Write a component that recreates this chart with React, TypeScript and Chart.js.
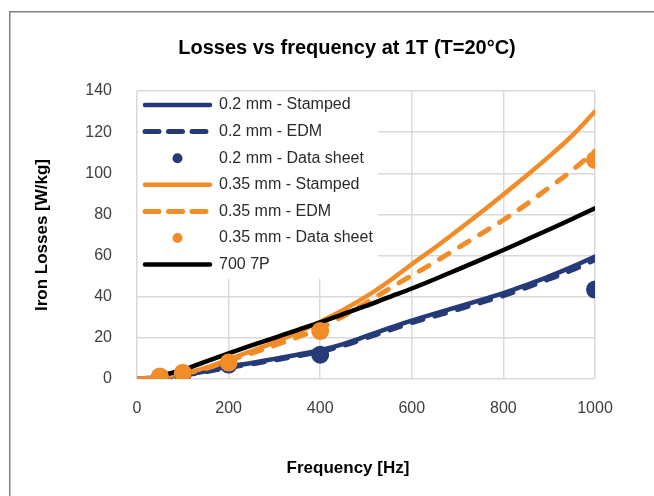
import React, { useEffect, useRef } from "react";
import { Chart, registerables } from "chart.js";

Chart.register(...registerables);

const FONT = "'Liberation Sans', Arial, Helvetica, sans-serif";

const title = "Losses vs frequency at 1T (T=20°C)";
const xTitle = "Frequency [Hz]";
const yTitle = "Iron Losses [W/kg]";

const freq = [0, 50, 100, 150, 200, 250, 300, 350, 400, 450, 500, 550, 600, 650, 700, 750, 800, 850, 900, 950, 1000];
const stamped02 = [0, 0.8, 2, 3.8, 6, 7.8, 9.8, 11.8, 14, 17, 20.8, 24.7, 28.4, 31.8, 35, 38.3, 41.7, 45.7, 49.9, 54.5, 59.5];
const edm02 = [0, 0.7, 1.8, 3.5, 5.6, 7.3, 9.2, 11.2, 13.3, 16.2, 19.9, 23.7, 27.4, 30.6, 33.8, 37.1, 40.5, 44.4, 48.6, 53, 58];
const stamped035 = [0, 0.8, 2.5, 5.5, 9.5, 13.5, 17.8, 22.5, 27.8, 33.5, 40, 47.5, 55.8, 63.8, 72.2, 80.8, 89.7, 98.8, 108.2, 118.3, 130];
const edm035 = [0, 0.8, 2.5, 5, 9, 12.5, 16.3, 20.3, 24.7, 30.5, 37, 43.8, 50.3, 56.8, 63.6, 70.4, 77.3, 84.9, 93.1, 101.4, 110.8];
const m7007p = [null, 1.5, 4.4, 8.5, 12.5, 16.3, 20, 23.8, 27.5, 31.5, 35.5, 39.8, 44, 48.5, 53.2, 57.9, 62.7, 67.7, 72.7, 77.8, 83];

const sheetFreq = [50, 100, 200, 400, 1000];
const sheet02 = [1, 2.5, 7, 11.8, 43.5];
const sheet035 = [1.2, 3, 8, 23.3, 106.5];

const NAVY = "#253a76";
const ORANGE = "#f28c28";
const BLACK = "#000000";

const xTicks = [0, 200, 400, 600, 800, 1000];
const yTicks = [0, 20, 40, 60, 80, 100, 120, 140];

const pts = (xs: number[], ys: (number | null)[]) => xs.map((x, i) => ({ x, y: ys[i] }));

const overlayPlugin = {
  id: "overlay",
  beforeDraw(chart: any) {
    const { ctx } = chart;
    ctx.save();
    ctx.strokeStyle = "#7f7f7f";
    ctx.lineWidth = 1.5;
    ctx.beginPath();
    ctx.moveTo(9.75, 496);
    ctx.lineTo(9.75, 11.75);
    ctx.lineTo(654, 11.75);
    ctx.stroke();
    ctx.restore();
  },
  beforeDatasetsDraw(chart: any) {
    const { ctx, chartArea } = chart;
    ctx.save();
    ctx.fillStyle = "#ffffff";
    ctx.fillRect(chartArea.left + 1, chartArea.top + 1, 240, 187);
    const sx0 = chartArea.left + 8;
    const sx1 = chartArea.left + 73;
    const tx = chartArea.left + 82;
    chart.data.datasets.forEach((ds: any, i: number) => {
      const y = chartArea.top + 14 + i * 26.6;
      if (ds.showLine === false) {
        ctx.beginPath();
        ctx.fillStyle = ds.backgroundColor;
        ctx.arc((sx0 + sx1) / 2, y, 5, 0, Math.PI * 2);
        ctx.fill();
      } else {
        ctx.beginPath();
        ctx.strokeStyle = ds.borderColor;
        ctx.lineWidth = ds.borderWidth;
        ctx.lineCap = "round";
        ctx.setLineDash(ds.borderDash && ds.borderDash.length ? [14, 9.5] : []);
        ctx.moveTo(sx0, y);
        ctx.lineTo(sx1, y);
        ctx.stroke();
        ctx.setLineDash([]);
      }
      ctx.fillStyle = "#2b2b2b";
      ctx.font = `16px ${FONT}`;
      ctx.textAlign = "left";
      ctx.textBaseline = "middle";
      ctx.fillText(ds.label, tx, y);
    });
    ctx.restore();
  },
  afterDraw(chart: any) {
    const { ctx } = chart;
    ctx.save();
    ctx.fillStyle = "#000000";
    ctx.textAlign = "center";
    ctx.textBaseline = "middle";
    ctx.font = `bold 20px ${FONT}`;
    ctx.fillText(title, 347, 48);
    ctx.font = `bold 17px ${FONT}`;
    ctx.fillText(xTitle, 348, 468);
    ctx.translate(42, 235);
    ctx.rotate(-Math.PI / 2);
    ctx.fillText(yTitle, 0, 0);
    ctx.restore();
  },
};

export default function App() {
  const ref = useRef<HTMLCanvasElement | null>(null);

  useEffect(() => {
    if (!ref.current) return;
    const lineCommon = {
      showLine: true,
      pointRadius: 0,
      pointHoverRadius: 0,
      cubicInterpolationMode: "monotone" as const,
      borderWidth: 4.5,
      borderCapStyle: "round" as const,
      fill: false,
    };
    const chart = new Chart(ref.current, {
      type: "scatter",
      data: {
        datasets: [
          { ...lineCommon, label: "0.2 mm - Stamped", data: pts(freq, stamped02), borderColor: NAVY, backgroundColor: NAVY, order: 6 },
          { ...lineCommon, label: "0.2 mm - EDM", data: pts(freq, edm02), borderColor: NAVY, backgroundColor: NAVY, borderDash: [11, 12.5], borderWidth: 5, order: 5 },
          { label: "0.2 mm - Data sheet", data: pts(sheetFreq, sheet02), showLine: false, pointRadius: 9, pointBorderWidth: 0, backgroundColor: NAVY, borderColor: NAVY, order: 1 },
          { ...lineCommon, label: "0.35 mm - Stamped", data: pts(freq, stamped035), borderColor: ORANGE, backgroundColor: ORANGE, order: 4 },
          { ...lineCommon, label: "0.35 mm - EDM", data: pts(freq, edm035), borderColor: ORANGE, backgroundColor: ORANGE, borderDash: [11, 12.5], borderWidth: 5, order: 3 },
          { label: "0.35 mm - Data sheet", data: pts(sheetFreq, sheet035), showLine: false, pointRadius: 9, pointBorderWidth: 0, backgroundColor: ORANGE, borderColor: ORANGE, order: 0 },
          { ...lineCommon, label: "700 7P", data: pts(freq, m7007p), borderColor: BLACK, backgroundColor: BLACK, order: 2 },
        ],
      } as any,
      options: {
        responsive: false,
        animation: false,
        layout: { padding: { left: 0, right: 59, top: 91, bottom: 0 } },
        plugins: {
          legend: { display: false },
          title: { display: false },
          tooltip: { enabled: false },
        },
        scales: {
          x: {
            type: "linear",
            min: 0,
            max: 1000,
            afterBuildTicks: (s: any) => {
              s.ticks = xTicks.map((v) => ({ value: v }));
            },
            afterFit: (s: any) => {
              s.height = 117;
            },
            ticks: {
              color: "#404040",
              font: { family: FONT, size: 16 },
              padding: 20,
              maxRotation: 0,
              callback: (v: any) => String(v),
            },
            grid: { color: "#d9d9d9", lineWidth: 1.5, drawTicks: false },
            border: { display: false },
          },
          y: {
            type: "linear",
            min: 0,
            max: 140,
            afterBuildTicks: (s: any) => {
              s.ticks = yTicks.map((v) => ({ value: v }));
            },
            afterFit: (s: any) => {
              s.width = 137;
            },
            ticks: {
              color: "#404040",
              font: { family: FONT, size: 16 },
              padding: 25,
              callback: (v: any) => String(v),
            },
            grid: { color: "#d9d9d9", lineWidth: 1.5, drawTicks: false },
            border: { display: false },
          },
        },
      } as any,
      plugins: [overlayPlugin],
    });
    return () => chart.destroy();
  }, []);

  return (
    <div style={{ position: "fixed", left: 0, top: 0, width: 654, height: 496, overflow: "hidden", background: "#fff" }}>
      <canvas ref={ref} width={654} height={496} style={{ display: "block", width: 654, height: 496 }} />
    </div>
  );
}
